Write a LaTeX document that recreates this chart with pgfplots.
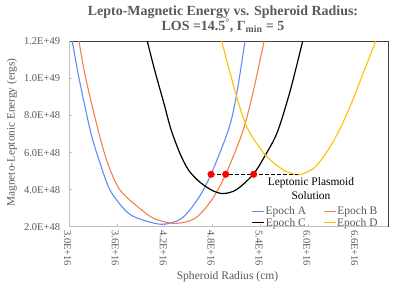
\documentclass[border=0pt]{standalone}
\usepackage{fontspec}
\setmainfont{Liberation Serif}
\usepackage{pgfplots}
\pgfplotsset{compat=1.18}
\definecolor{cA}{HTML}{5B8EF5}
\definecolor{cB}{HTML}{F57F4F}
\definecolor{cC}{HTML}{000000}
\definecolor{cD}{HTML}{FFC000}
\definecolor{txtgray}{HTML}{595959}
\definecolor{framegray}{HTML}{404040}
\definecolor{axgray}{HTML}{BFBFBF}
\begin{document}
\begin{tikzpicture}
\path[use as bounding box] (-69bp,-62.3bp) rectangle (330bp,226.7bp);
\begin{axis}[
  at={(0bp,0bp)}, anchor=south west,
  scale only axis, width=319bp, height=185.2bp,
  xmin=3, xmax=7, ymin=2, ymax=12,
  xtick={3,3.6,4.2,4.8,5.4,6.0,6.6},
  xticklabels={3.0E+16,3.6E+16,4.2E+16,4.8E+16,5.4E+16,6.0E+16,6.6E+16},
  ytick={2,4,6,8,10,12},
  yticklabels={2.0E+48,4.0E+48,6.0E+48,8.0E+48,1.0E+49,1.2E+49},
  tick align=inside, major tick length=3bp, tick pos=left,
  tick style={color=axgray, line width=0.6bp},
  axis line style={draw=framegray, line width=0.8bp},
  xticklabel style={rotate=-90, anchor=west, font=\fontsize{10.5}{12}\selectfont, text=txtgray, yshift=-1.5bp},
  yticklabel style={font=\fontsize{10.5}{12}\selectfont, text=txtgray, xshift=-5.5bp},
  legend columns=2,
  legend style={at={(axis description cs:0.572,-0.01)}, anchor=south west, draw=none, fill=none,
    font=\fontsize{11.5}{12}\selectfont, text=txtgray, inner sep=0pt, outer sep=0pt, row sep=0bp,
    /tikz/every even column/.append style={column sep=16bp}, nodes={inner sep=1bp}},
  legend image code/.code={\draw[#1] (0bp,0bp) -- (12bp,0bp);},
]
\addplot[cA, line width=1.1bp, smooth] coordinates {
(3.03,12.3) (3.041,12.01) (3.125,10.03) (3.272,7.10) (3.389,5.44) (3.514,3.98) (3.702,2.90) (3.853,2.47) (4.162,2.13) (4.413,2.45) (4.621,3.53) (4.781,4.83) (4.998,7.22) (5.094,8.95) (5.207,12.01) (5.22,12.4)};
\addlegendentry{Epoch A}
\addplot[cB, line width=1.1bp, smooth] coordinates {
(3.115,12.3) (3.125,12.01) (3.209,10.03) (3.372,7.10) (3.485,5.44) (3.639,3.98) (3.912,2.90) (4.078,2.42) (4.329,2.18) (4.58,2.45) (4.789,3.44) (4.965,4.83) (5.185,7.22) (5.320,9.49) (5.445,12.01) (5.46,12.4)};
\addlegendentry{Epoch B}
\addplot[cC, line width=1.2bp, smooth] coordinates {
(3.965,12.3) (3.982,12.01) (4.078,10.39) (4.191,8.65) (4.279,7.25) (4.392,5.95) (4.50,5.05) (4.643,4.40) (4.80,3.95) (4.935,3.79) (5.10,4.00) (5.311,4.83) (5.46,5.85) (5.612,7.10) (5.771,9.30) (5.930,12.01) (5.945,12.3)};
\addlegendentry{Epoch C}
\addplot[cD, line width=1.1bp, smooth] coordinates {
(4.90,12.3) (4.915,12.01) (5.103,9.00) (5.228,7.40) (5.36,6.45) (5.479,5.80) (5.60,5.33) (5.73,4.97) (5.875,4.80) (6.0,4.98) (6.10,5.28) (6.25,6.15) (6.40,7.30) (6.55,8.75) (6.649,9.85) (6.846,12.01) (6.87,12.3)};
\addlegendentry{Epoch D}
\addplot[black, line width=1.2bp, dash pattern=on 3.5bp off 2.5bp, forget plot] coordinates {(4.781,4.83) (5.875,4.83)};
\addplot[only marks, mark=*, mark size=3.3bp, mark options={fill=red, draw=red}, forget plot] coordinates {(4.781,4.83) (4.965,4.83) (5.316,4.83)};
\end{axis}
\draw[axgray, line width=0.8bp] (0bp,185.2bp) -- (0bp,0bp) -- (319bp,0bp);
\node[align=center, font=\fontsize{14}{15}\selectfont\bfseries, text=txtgray] at (154bp,207.5bp)
  {Lepto-Magnetic Energy vs. Spheroid Radius:\\LOS =14.5\textsuperscript{°}, Γ\textsubscript{min} = 5};
\node[rotate=90, font=\fontsize{11.3}{13}\selectfont, text=txtgray] at (-57bp,94.2bp) {Magneto-Leptonic Energy (ergs)};
\node[font=\fontsize{11.6}{13}\selectfont, text=txtgray] at (158.5bp,-50.3bp) {Spheroid Radius (cm)};
\node[align=center, font=\fontsize{11.5}{14}\selectfont, text=black] at (242bp,38.2bp) {Leptonic Plasmoid\\Solution};
\end{tikzpicture}
\end{document}
